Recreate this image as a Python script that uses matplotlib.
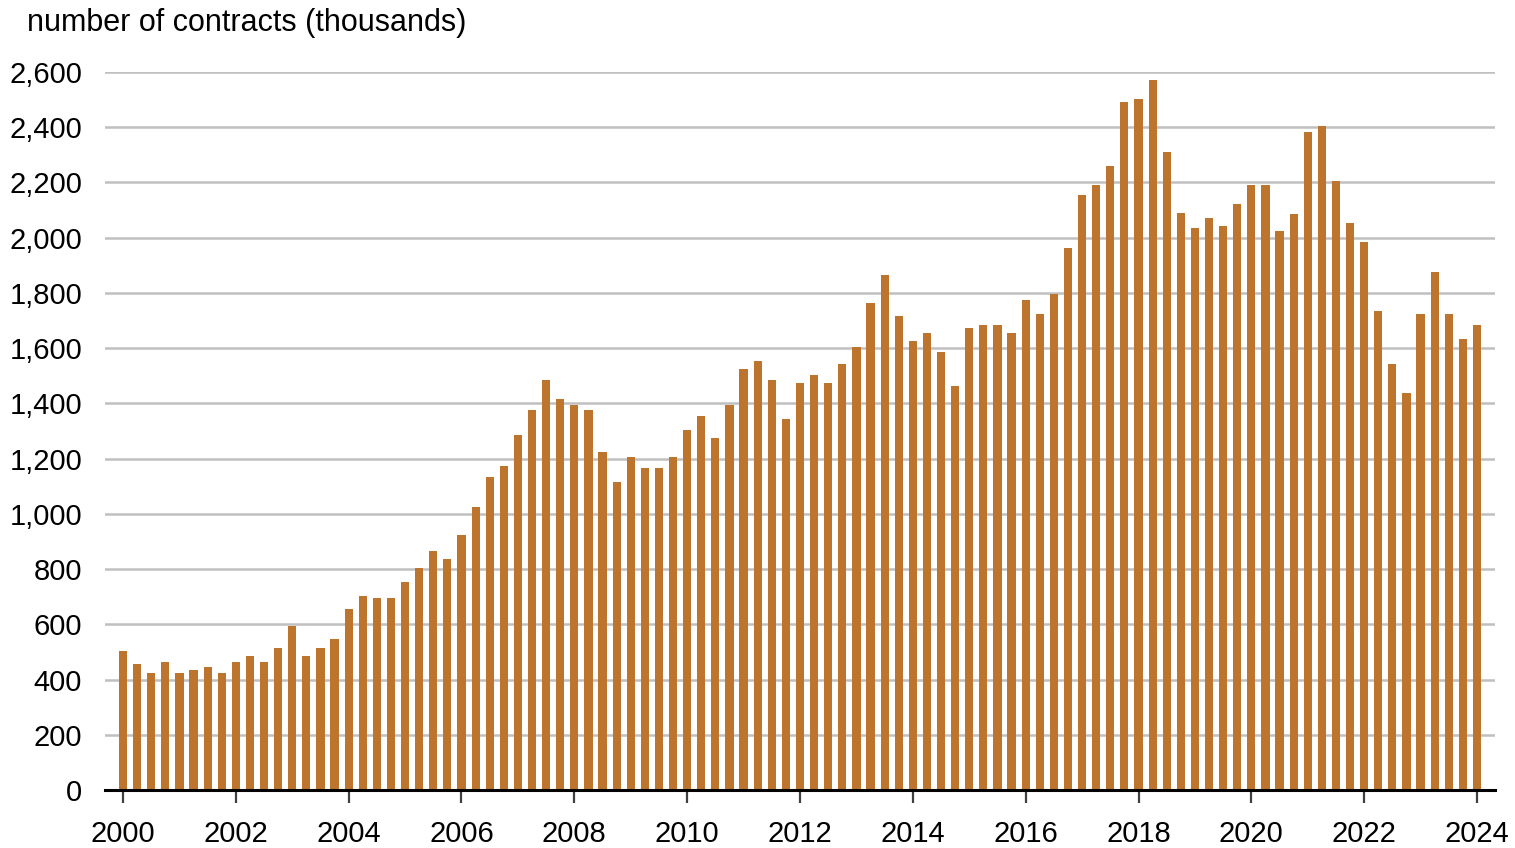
import numpy as np
import matplotlib
matplotlib.use("Agg")
import matplotlib.pyplot as plt
from matplotlib.ticker import FuncFormatter

plt.rcParams['font.family'] = ['Liberation Sans', 'DejaVu Sans']

# Quarterly number of contracts (thousands), 2000Q1 - 2024Q1
start_year = 2000
contracts = [
    505, 458, 425, 465,      # 2000
    425, 435, 447, 425,      # 2001
    465, 487, 465, 515,      # 2002
    595, 487, 515, 545,      # 2003
    655, 703, 697, 697,      # 2004
    753, 804, 867, 835,      # 2005
    925, 1025, 1135, 1175,   # 2006
    1285, 1377, 1485, 1415,  # 2007
    1395, 1377, 1225, 1117,  # 2008
    1207, 1167, 1167, 1207,  # 2009
    1305, 1355, 1276, 1395,  # 2010
    1525, 1555, 1485, 1345,  # 2011
    1475, 1504, 1475, 1544,  # 2012
    1605, 1765, 1865, 1717,  # 2013
    1627, 1656, 1587, 1464,  # 2014
    1673, 1684, 1684, 1656,  # 2015
    1775, 1725, 1796, 1962,  # 2016
    2153, 2192, 2261, 2491,  # 2017
    2502, 2570, 2311, 2091,  # 2018
    2034, 2073, 2044, 2123,  # 2019
    2192, 2192, 2023, 2084,  # 2020
    2383, 2404, 2206, 2054,  # 2021
    1984, 1735, 1544, 1436,  # 2022
    1724, 1876, 1724, 1634,  # 2023
    1684,                    # 2024
]
year_ticks = list(range(2000, 2025, 2))
y_ticks = list(range(0, 2601, 200))

x = start_year + np.arange(len(contracts)) * 0.25

W, H = 1515, 848
fig = plt.figure(figsize=(W / 100, H / 100), dpi=100)
ax = fig.add_axes([105 / W, (H - 790) / H, (1495 - 105) / W, (790 - 72) / H])

ax.bar(x, contracts, width=0.145, color="#BD752D", zorder=3)

ax.set_xlim(2000 - 18 / 56.42, 2024 + 18 / 56.42)
ax.set_ylim(0, 2600)

ax.set_yticks(y_ticks)
ax.yaxis.set_major_formatter(FuncFormatter(lambda v, p: f"{int(v):,}"))
ax.set_xticks(year_ticks)
ax.set_xticklabels([str(y) for y in year_ticks])

ax.grid(axis="y", color="#C0C0C0", linewidth=1.8, zorder=0)
ax.set_axisbelow(True)

for s in ["top", "right", "left"]:
    ax.spines[s].set_visible(False)
ax.spines["bottom"].set_linewidth(2.2)
ax.spines["bottom"].set_color("black")
ax.spines["bottom"].set_zorder(4)

ax.tick_params(axis="y", length=0, pad=16.5, labelsize=21)
ax.tick_params(axis="x", length=9.4, width=1.6, color="#404040", direction="out",
               pad=12, labelsize=21)
for lab in ax.get_xticklabels() + ax.get_yticklabels():
    lab.set_color("black")

fig.text(27 / W, 1 - 23 / H, "number of contracts (thousands)",
         fontsize=22, va="center", ha="left")

fig.savefig("out.png", dpi=100)
